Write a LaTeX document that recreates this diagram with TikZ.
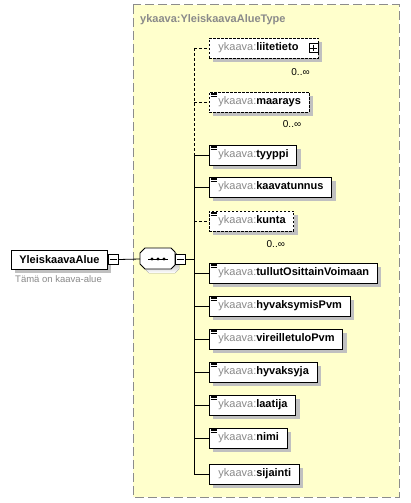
\documentclass[tikz,border=0pt]{standalone}
\usepackage{fontspec}
\setmainfont{Liberation Sans}
\usetikzlibrary{shadows}
\definecolor{bgyellow}{HTML}{FFFFCC}
\definecolor{pfx}{HTML}{8A8A8A}
\definecolor{shade}{HTML}{C0C0C0}
\definecolor{frame}{HTML}{8C8C8C}
\newcommand\elname[1]{\hspace*{9pt}\textcolor{pfx}{ykaava:}\textbf{#1}\hspace*{8pt}}
\begin{document}
\begin{tikzpicture}[x=1pt,y=-1pt,
  shad/.style={general shadow={fill=shade, shadow xshift=4pt, shadow yshift=-4pt}},
  elem/.style={draw=black, fill=white, shad, anchor=west, inner xsep=0pt, inner ysep=0pt,
    minimum height=20pt, font=\fontsize{11}{13}\selectfont, line width=0.8pt},
  opt/.style={elem, dash pattern=on 2.5pt off 1.5pt},
  conn/.style={line width=0.8pt},
  dconn/.style={line width=0.8pt, dash pattern=on 3pt off 2pt},
  card/.style={anchor=east, inner sep=0pt, font=\fontsize{10}{12}\selectfont},
  smallbox/.style={draw=black, fill=white, line width=0.7pt, minimum size=10pt, inner sep=0pt}
]
\useasboundingbox (0,0) rectangle (410,503);
\fill[white] (0,0) rectangle (410,503);
% type frame
\draw[fill=bgyellow, draw=frame, dash pattern=on 9pt off 4pt, line width=1pt] (133,5) rectangle (399,497);
\node[anchor=west, inner sep=0pt, text=pfx, font=\fontsize{11}{13}\selectfont\bfseries] (title) at (140,20) {ykaava:YleiskaavaAlueType};

% root element
\node[draw=black, fill=white, shad, line width=0.8pt, anchor=west, minimum width=96pt, minimum height=19pt, inner sep=0pt,
  font=\fontsize{11}{13}\selectfont\bfseries] (root) at (11,259.5) {YleiskaavaAlue};
\node[smallbox, anchor=west] (rootm) at (root.east) {};
\draw[line width=0.7pt] ([xshift=2pt]rootm.west) -- ([xshift=-2pt]rootm.east);
\node[anchor=north west, inner sep=0pt, text=pfx, font=\fontsize{9.5}{11}\selectfont] (doc) at (15,275) {Tämä on kaava-alue};

% sequence compositor
\coordinate (seqL) at (140,259);
\fill[shade] (149,252) -- (175,252) -- (179,256) -- (179,269) -- (175,273) -- (149,273) -- (144,268) -- (144,256) -- cycle;
\draw[fill=white, line width=0.8pt] (145,248) -- (171,248) -- (175,252) -- (175,265) -- (171,269) -- (145,269) -- (140,264) -- (140,253) -- cycle;
\draw[line width=0.8pt] (148,259) -- (168,259);
\foreach \dx in {152,158,164} \fill (\dx,259) circle (1.6pt);
\node[smallbox, anchor=west] (seqm) at (175,259) {};
\draw[line width=0.7pt] ([xshift=2pt]seqm.west) -- ([xshift=-2pt]seqm.east);
\draw[conn] (rootm.east) -- (seqL);

% child elements
\node[opt] (liitetieto) at (209,48) {\elname{liitetieto}\hspace*{12pt}};
\node[opt] (maarays) at (209,102) {\elname{maarays}};
\node[elem] (tyyppi) at (209,155) {\elname{tyyppi}};
\node[elem] (kaavatunnus) at (209,187) {\elname{kaavatunnus}};
\node[opt] (kunta) at (209,221) {\elname{kunta}};
\node[elem] (tullut) at (209,273) {\elname{tullutOsittainVoimaan}};
\node[elem] (hyvaksymis) at (209,306) {\elname{hyvaksymisPvm}};
\node[elem] (vireille) at (209,339) {\elname{vireilletuloPvm}};
\node[elem] (hyvaksyja) at (209,372) {\elname{hyvaksyja}};
\node[elem] (laatija) at (209,405) {\elname{laatija}};
\node[elem] (nimi) at (209,438) {\elname{nimi}};
\node[elem] (sijainti) at (209,474) {\elname{sijainti}};

% plus box on liitetieto
\node[smallbox, minimum size=9pt] (plus) at ([xshift=-5.5pt]liitetieto.east) {};
\draw[line width=0.7pt] ([xshift=1.5pt]plus.west) -- ([xshift=-1.5pt]plus.east)
  ([yshift=-1.5pt]plus.north) -- ([yshift=1.5pt]plus.south);

% icons
\foreach \n in {maarays,tyyppi,kaavatunnus,kunta,tullut,hyvaksymis,vireille,hyvaksyja,laatija,nimi}{
  \draw[line width=0.6pt] ([xshift=1.5pt,yshift=-1.5pt]\n.north west) -- ++(6,0)
    ([xshift=1.5pt,yshift=-3pt]\n.north west) -- ++(6,0)
    ([xshift=1.5pt,yshift=-4.5pt]\n.north west) -- ++(6,0);
}

% cardinalities
\node[card] (c1) at ([xshift=-9pt,yshift=-14pt]liitetieto.south east) {0..∞};
\node[card] (c2) at ([xshift=-8pt,yshift=-12pt]maarays.south east) {0..∞};
\node[card] (c3) at ([xshift=-9pt,yshift=-13pt]kunta.south east) {0..∞};

% spine
\coordinate (sp0) at (194,48);
\coordinate (sp1) at (194,155);
\coordinate (sp2) at (194,474);
\coordinate (spm) at (194,259);
\draw[dconn] (sp0) -- (sp1);
\draw[conn] (sp1) -- (sp2);
\draw[conn] (seqm.east) -- (spm);
\draw[dconn] (sp0) -- (liitetieto.west);
\draw[dconn] (194,102) -- (maarays.west);
\draw[dconn] (194,221) -- (kunta.west);
\foreach \n in {tyyppi,kaavatunnus,tullut,hyvaksymis,vireille,hyvaksyja,laatija,nimi,sijainti}
  \draw[conn] (\n.west -| sp1) -- (\n.west);
\end{tikzpicture}
\end{document}
